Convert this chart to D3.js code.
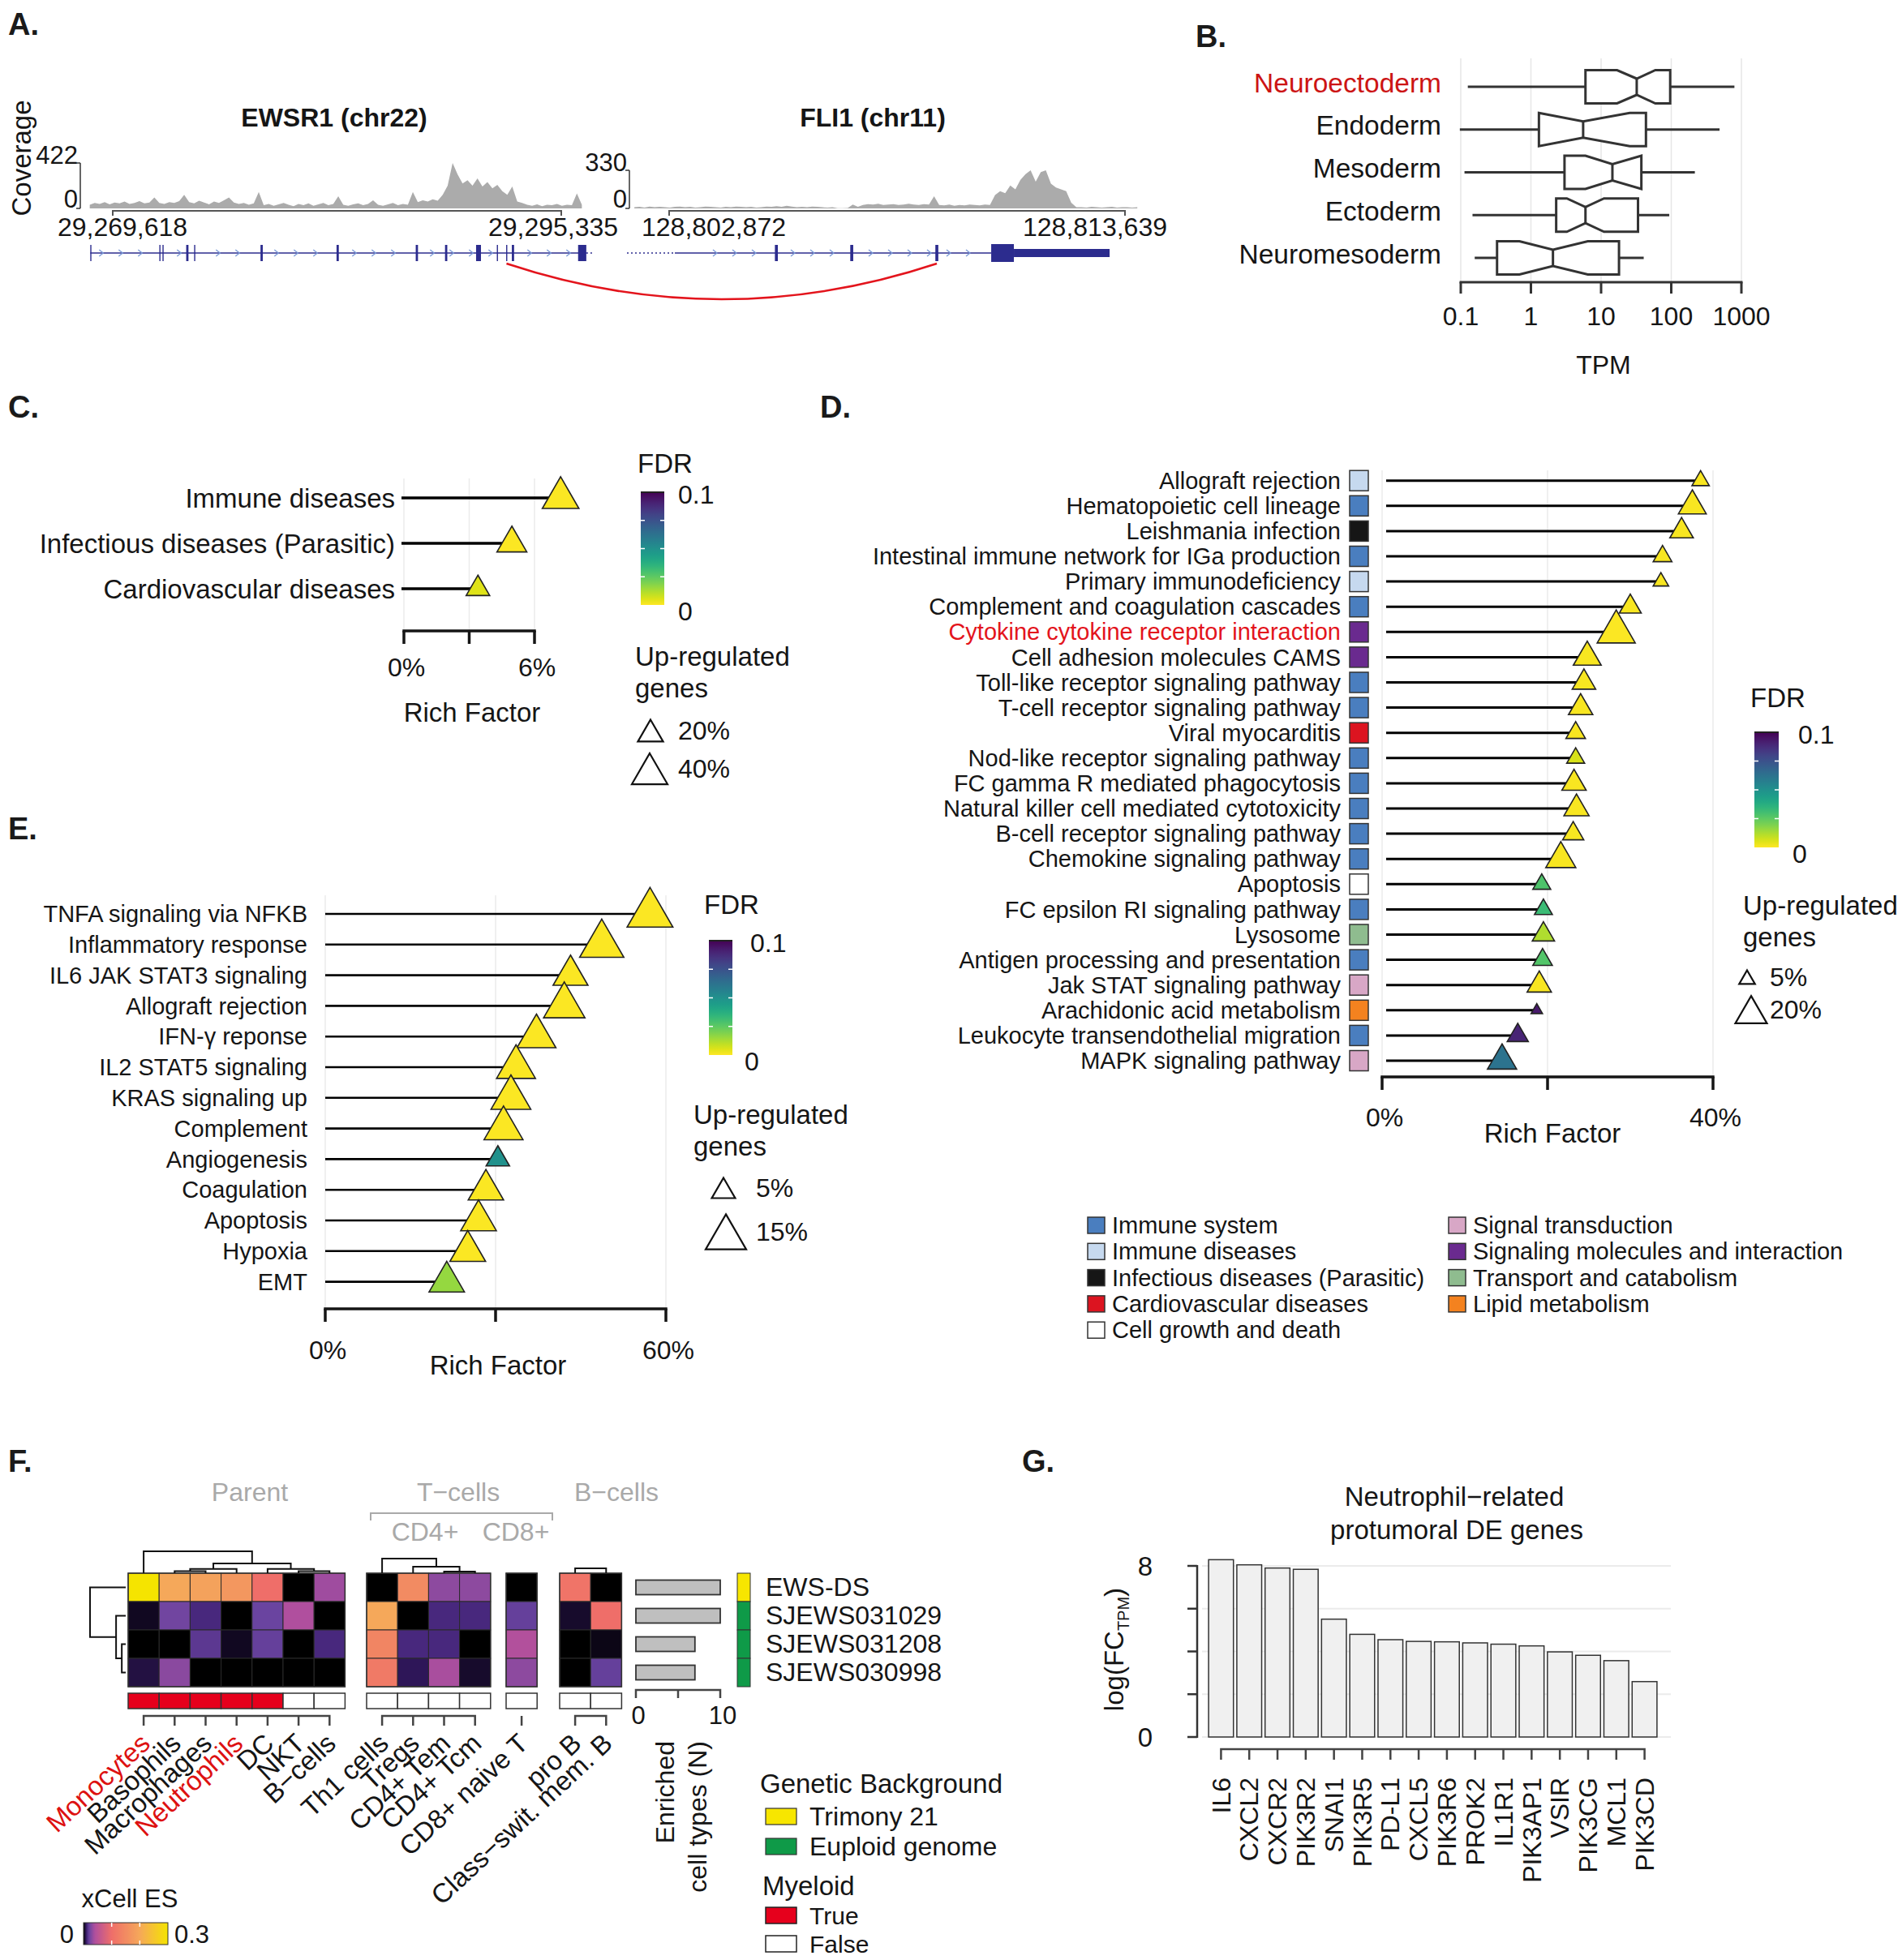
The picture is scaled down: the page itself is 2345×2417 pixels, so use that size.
<!DOCTYPE html>
<html><head><meta charset="utf-8">
<script src="https://cdn.jsdelivr.net/npm/d3@7"></script>
<style>body{margin:0;background:#fff}svg{display:block}</style>
</head><body>
<svg id="fig" width="2345" height="2417"></svg>
<script>
// ================= DATA =================
// Panel A
const ewsTicks = [29269618, 29295335];
const fliTicks = [128802872, 128813639];
const ewsMax = 422, fliMax = 330;
const ewsCovStart = 29268300, ewsCovStep = 285;
const ewsCoverage = [8,12,10,14,9,13,11,15,10,12, 16,11,13,24,12,10,14,12,16,30, 14,11,17,13,9,15,12,18,24,13, 10,12,8,11,36,7,10,6,9,12, 8,5,10,7,11,6,9,12,7,10, 27,8,6,9,11,7,10,18,8,6, 9,12,7,10,8,36,14,18,15,20, 17,30,50,100,75,55,62,50,66,48, 58,44,52,38,30,48,15,12,8,6, 9,5,8,7,10,6,8,7,33,8];
const fliCovStart = 128802050, fliCovStep = 120;
const fliCoverage = [3,4,2,5,3,4,3,2,4,5, 3,4,2,3,5,4,3,2,4,3, 5,4,3,4,2,3,5,4,6,4, 7,5,3,4,3,5,4,3,2,3, 0.5,0.5,1,10,4,9,11,10,12,9, 10,11,9,10,12,10,9,11,10,32, 9,8,10,7,9,8,10,9,8,10, 9,35,45,40,60,50,75,90,100,70, 95,100,65,55,50,45,15,3,3,2, 4,3,2,3,4,2,3,3,2,3];
const ewsGeneSpan = [29268330, 29296774, 29297100];
const ewsExons = [[29268330,29268380],[29272290,29272340],[29272470,29272510],[29273830,29273960],[29274285,29274325],[29278090,29278220],[29282450,29282580],[29286990,29287120],[29288670,29288800],[29290450,29290730],[29291640,29291680],[29292175,29292215],[29292500,29292630],[29296300,29296770]];
const fliGeneSpan = [128801876, 128803006, 128813276];
const fliExons = [[128805370,128805440],[128807150,128807220],[128809160,128809230]];
const fliCDS = [128810479, 128811015];
const fliUTR = [128811015, 128813276];
const fusionBreak = [29292194, 128809195];

// Panel B
const bCategories = ["Neuroectoderm","Endoderm","Mesoderm","Ectoderm","Neuromesoderm"];
const bWhiskerLow = [0.126, 0.097, 0.113, 0.147, 0.158];
const bQ1 = [5.99, 1.30, 3.01, 2.29, 0.329];
const bNotchLow = [16.9, 1.30, 5.99, 3.25, 0.686];
const bMedian = [32.2, 5.55, 14.5, 5.99, 2.06];
const bNotchHigh = [59.3, 25.6, 37.5, 11.0, 6.47];
const bQ3 = [96.6, 43.6, 37.5, 33.6, 18.0];
const bWhiskerHigh = [795, 488, 217, 93.7, 40.5];
const bTicks = [0.1, 1, 10, 100, 1000];

// Panel C
const cTerms = ["Immune diseases","Infectious diseases (Parasitic)","Cardiovascular diseases"];
const cRich = [7.2, 4.96, 3.4];
const cUp = [42, 28, 17.4];
const cFdr = [0.0005, 0.0005, 0.005];
const cTicks = [0, 3, 6];
const cTickLabels = ["0%", "", "6%"];
const cSizeLegend = [20, 40];

// Panel D
const dTerms = ["Allograft rejection","Hematopoietic cell lineage","Leishmania infection","Intestinal immune network for IGa production","Primary immunodeficiency","Complement and coagulation cascades","Cytokine cytokine receptor interaction","Cell adhesion molecules CAMS","Toll-like receptor signaling pathway","T-cell receptor signaling pathway","Viral myocarditis","Nod-like receptor signaling pathway","FC gamma R mediated phagocytosis","Natural killer cell mediated cytotoxicity","B-cell receptor signaling pathway","Chemokine signaling pathway","Apoptosis","FC epsilon RI signaling pathway","Lysosome","Antigen processing and presentation","Jak STAT signaling pathway","Arachidonic acid metabolism","Leukocyte transendothelial migration","MAPK signaling pathway"];
const dRich = [38.5, 37.5, 36.2, 33.9, 33.7, 30, 28.3, 24.8, 24.4, 24, 23.4, 23.4, 23.2, 23.5, 23.1, 21.6, 19.3, 19.5, 19.5, 19.4, 19, 18.7, 16.4, 14.5];
const dUp = [6, 15.5, 11, 7, 4.8, 9.6, 29, 15.5, 11, 11.8, 7.6, 6.4, 11.8, 12.6, 8.9, 18, 6.4, 6.4, 9.9, 7.6, 11.8, 2.6, 8.9, 17];
const dFdr = [0.001, 0.001, 0.001, 0.001, 0.001, 0.001, 0.0005, 0.001, 0.001, 0.001, 0.001, 0.006, 0.001, 0.001, 0.001, 0.001, 0.028, 0.032, 0.012, 0.027, 0.001, 0.093, 0.09, 0.062];
const dCategoryNames = ["Immune system","Immune diseases","Infectious diseases (Parasitic)","Cardiovascular diseases","Cell growth and death","Signal transduction","Signaling molecules and interaction","Transport and catabolism","Lipid metabolism"];
const dCategoryColors = ["#4a7ebf","#c6d9ef","#161616","#dc1420","#ffffff","#d8a7c6","#6a2a8f","#8fbc8f","#f4821f"];
const dTermCategory = [1,0,2,0,1,0,6,6,0,0,3,0,0,0,0,0,4,0,7,0,5,8,0,5];
const dHighlight = ["Cytokine cytokine receptor interaction"];
const dTicks = [0, 20, 40];
const dTickLabels = ["0%", "", "40%"];
const dSizeLegend = [5, 20];

// Panel E
const eTerms = ["TNFA signaling via NFKB","Inflammatory response","IL6 JAK STAT3 signaling","Allograft rejection","IFN-\u03b3 reponse","IL2 STAT5 signaling","KRAS signaling up","Complement","Angiogenesis","Coagulation","Apoptosis","Hypoxia","EMT"];
const eRich = [57.2, 48.7, 43.2, 42.1, 37.2, 33.6, 32.7, 31.4, 30.4, 28.3, 27, 25.1, 21.4];
const eUp = [19.1, 17.8, 11.1, 15.6, 13.8, 13.8, 14.4, 13.8, 5.0, 11.4, 11.6, 11.6, 11.4];
const eFdr = [0.0005, 0.0005, 0.0005, 0.0005, 0.0005, 0.0005, 0.0005, 0.0005, 0.05, 0.0005, 0.0005, 0.0005, 0.016];
const eTicks = [0, 30, 60];
const eTickLabels = ["0%", "", "60%"];
const eSizeLegend = [5, 15];

// Panel F
const fSamples = ["EWS-DS","SJEWS031029","SJEWS031208","SJEWS030998"];
const fParentCols = ["Monocytes","Basophils","Macrophages","Neutrophils","DC","NKT","B\u2212cells"];
const fTcd4Cols = ["Th1 cells","Tregs","CD4+ Tem","CD4+ Tcm"];
const fTcd8Cols = ["CD8+ naive T"];
const fBCols = ["pro B","Class\u2212swit. mem. B"];
const fParentES = [[0.3,0.2,0.19,0.17,0.1,0,0.035],[0.003,0.022,0.013,0,0.02,0.04,0],[0,0,0.017,0.003,0.019,0,0.013],[0.006,0.029,0,0,0,0,0]];
const fTcd4ES = [[0,0.15,0.03,0.03],[0.2,0,0.013,0.013],[0.14,0.013,0.013,0],[0.12,0.008,0.038,0.004]];
const fTcd8ES = [[0],[0.019],[0.042],[0.03]];
const fBES = [[0.11,0],[0.004,0.1],[0,0.002],[0,0.019]];
const fParentMyeloid = [true,true,true,true,true,false,false];
const fEnriched = [10, 10, 7, 7];
const fGenetic = ["Trimony 21","Euploid genome","Euploid genome","Euploid genome"];
const fRedCols = ["Monocytes","Neutrophils"];
const fParentDendro = {h:1, c:[0, {h:0.44, c:[{h:0.19, c:[{h:0.09, c:[1,2]}, 3]}, {h:0.19, c:[4, {h:0.09, c:[5,6]}]}]}]};
const fTcd4Dendro = {h:0.67, c:[0, {h:0.3, c:[1, {h:0.07, c:[2,3]}]}]};
const fBDendro = {h:0.22, c:[0,1]};
const fRowDendro = {h:1, c:[0, {h:0.27, c:[1, {h:0.11, c:[2,3]}]}]};
const fEsStops = [0, 0.01, 0.02, 0.04, 0.1, 0.2, 0.3];
const fEsColors = ["#000000","#3a1c6e","#6a44a0","#b04f9e","#ef6e69","#f5a85a","#f5e400"];

// Panel G
const gGenes = ["IL6","CXCL2","CXCR2","PIK3R2","SNAI1","PIK3R5","PD-L1","CXCL5","PIK3R6","PROK2","IL1R1","PIK3AP1","VSIR","PIK3CG","MCL1","PIK3CD"];
const gLogFC = [8.29, 8.05, 7.9, 7.84, 5.51, 4.8, 4.55, 4.47, 4.45, 4.4, 4.34, 4.26, 3.98, 3.82, 3.57, 2.59];
const gTicks = [0, 2, 4, 6, 8];

// ================= DRAWING =================
const FF = "'Liberation Sans', Arial, Helvetica, sans-serif";
const svg = d3.select('#fig');
svg.append('rect').attr('width',2345).attr('height',2417).attr('fill','#fff');
const defs = svg.append('defs');

function text(g, x, y, s, o = {}) {
  const t = g.append('text').attr('x', x).attr('y', y)
    .attr('font-family', FF).attr('font-size', o.size || 33)
    .attr('text-anchor', o.anchor || 'start').attr('fill', o.fill || '#151515')
    .attr('dy', o.dy === undefined ? '0.35em' : o.dy);
  if (o.weight) t.attr('font-weight', o.weight);
  if (o.rotate !== undefined) t.attr('transform', `rotate(${o.rotate},${x},${y})`);
  t.text(s);
  return t;
}
function line(g, x1, y1, x2, y2, stroke, w, dash) {
  const l = g.append('line').attr('x1', x1).attr('y1', y1).attr('x2', x2).attr('y2', y2)
    .attr('stroke', stroke).attr('stroke-width', w);
  if (dash) l.attr('stroke-dasharray', dash);
  return l;
}
function triPath(cx, cy, w) {
  const h = w * 0.866;
  return `M${cx},${cy - 2*h/3}L${cx + w/2},${cy + h/3}L${cx - w/2},${cy + h/3}Z`;
}
function triBoxPath(cx, cy, w) {
  const h = w * 0.866;
  return `M${cx},${cy - h/2}L${cx + w/2},${cy + h/2}L${cx - w/2},${cy + h/2}Z`;
}
const fdrColor = v => d3.interpolateViridis(1 - Math.min(v, 0.1) / 0.1);

const vg = defs.append('linearGradient').attr('id','viridisV').attr('x1',0).attr('y1',1).attr('x2',0).attr('y2',0);
d3.range(0, 1.0001, 0.05).forEach(t => vg.append('stop').attr('offset', t).attr('stop-color', fdrColor(t * 0.1)));

[['A.',10,43],['B.',1474,58],['C.',10,515],['D.',1011,515],['E.',10,1035],['F.',10,1815],['G.',1260,1815]]
  .forEach(([s,x,y]) => text(svg, x, y, s, {size:38, weight:'bold', dy:0, fill:'#1a1a1a'}));

// ---------------- Panel A ----------------
{
  const g = svg.append('g');
  const baseY = 257;
  const ewsX = d3.scaleLinear().domain(ewsTicks).range([139, 692]);
  const ewsY = d3.scaleLinear().domain([0, ewsMax]).range([baseY, 201]);
  const fliX = d3.scaleLinear().domain(fliTicks).range([825, 1387]);
  const fliY = d3.scaleLinear().domain([0, fliMax]).range([baseY, 210]);

  function track(xs, ys, start, step, cov, max, axisX, labelPos) {
    const pts = cov.map((v, i) => [start + i * step, v / 100 * max]);
    g.append('path').datum(pts)
      .attr('d', d3.area().x(d => xs(d[0])).y0(baseY).y1(d => ys(d[1])))
      .attr('fill', '#ababab');
    line(g, axisX, ys(0), axisX, ys(max), '#333', 1.5);
    line(g, axisX - 5, ys(max), axisX, ys(max), '#333', 1.5);
    line(g, axisX - 5, ys(0), axisX, ys(0), '#333', 1.5);
    text(g, axisX - 3, ys(max) + 1, String(max), {anchor:'end', dy:0, size:31});
    text(g, axisX - 3, ys(0) - 1, '0', {anchor:'end', dy:0, size:31});
    const [t0, t1] = xs.domain();
    g.append('path').attr('d', `M${xs(t0)},266V260H${xs(t1)}V266`)
      .attr('fill','none').attr('stroke','#555').attr('stroke-width',2);
    xs.domain().forEach((t, i) => text(g, xs(t) + labelPos[i], 291, d3.format(',')(t), {anchor:'middle', dy:0, size:32}));
  }
  track(ewsX, ewsY, ewsCovStart, ewsCovStep, ewsCoverage, ewsMax, 99, [12, -10]);
  track(fliX, fliY, fliCovStart, fliCovStep, fliCoverage, fliMax, 776, [55, -37]);

  text(g, 412, 156, 'EWSR1 (chr22)', {anchor:'middle', dy:0, size:32, weight:'bold'});
  text(g, 1076, 156, 'FLI1 (chr11)', {anchor:'middle', dy:0, size:32, weight:'bold'});
  text(g, 26, 195, 'Coverage', {anchor:'middle', size:33, rotate:-90});

  const gy = 312, navy = '#2c2c8e', chev = '#7b9bd8';
  function chevrons(x0, x1, skip) {
    for (let x = x0; x < x1; x += 24) {
      if (skip.some(s => Math.abs(s - x) < 6)) continue;
      g.append('path').attr('d', `M${x-3},${gy-4}L${x+2},${gy}L${x-3},${gy+4}`)
        .attr('fill','none').attr('stroke',chev).attr('stroke-width',1.3);
    }
  }
  line(g, ewsX(ewsGeneSpan[0]), gy, ewsX(ewsGeneSpan[1]), gy, navy, 1.6);
  line(g, ewsX(ewsGeneSpan[1]), gy, ewsX(ewsGeneSpan[2]), gy, navy, 1.6, '2,3');
  chevrons(ewsX(ewsGeneSpan[0]) + 14, ewsX(ewsGeneSpan[1]) - 8, ewsExons.map(e => ewsX((e[0]+e[1])/2)));
  ewsExons.forEach(e => {
    const x0 = ewsX(e[0]), w = Math.max(1.4, ewsX(e[1]) - x0);
    g.append('rect').attr('x', x0).attr('y', gy - 10).attr('width', w).attr('height', 20).attr('fill', navy);
  });
  line(g, fliX(fliGeneSpan[0]), gy, fliX(fliGeneSpan[1]), gy, navy, 1.6, '2,3');
  line(g, fliX(fliGeneSpan[1]), gy, fliX(fliCDS[0]), gy, navy, 1.6);
  chevrons(fliX(fliGeneSpan[1]) + 50, fliX(fliCDS[0]) - 8, fliExons.map(e => fliX((e[0]+e[1])/2)));
  fliExons.forEach(e => {
    const x0 = fliX(e[0]), w = Math.max(1.4, fliX(e[1]) - x0);
    g.append('rect').attr('x', x0).attr('y', gy - 10).attr('width', w).attr('height', 20).attr('fill', navy);
  });
  g.append('rect').attr('x', fliX(fliCDS[0])).attr('y', gy - 11).attr('width', fliX(fliCDS[1]) - fliX(fliCDS[0])).attr('height', 22).attr('fill', navy);
  g.append('rect').attr('x', fliX(fliUTR[0])).attr('y', gy - 5).attr('width', fliX(fliUTR[1]) - fliX(fliUTR[0])).attr('height', 10).attr('fill', navy);
  const ax0 = ewsX(fusionBreak[0]), ax1 = fliX(fusionBreak[1]);
  g.append('path').attr('d', `M${ax0},325Q${(ax0+ax1)/2},413 ${ax1},325`)
    .attr('fill','none').attr('stroke','#e3141c').attr('stroke-width',2.5);
}

// ---------------- Panel B ----------------
{
  const g = svg.append('g');
  const x = d3.scaleLog().domain([0.1, 1000]).range([1801, 2147]);
  const y = d3.scalePoint().domain(bCategories).range([107, 318]);
  bTicks.forEach(t => line(g, x(t), 72, x(t), 348, '#e6e6e6', 1.5));
  bCategories.forEach((c, i) => {
    const cy = y(c), hh = 20.5, nh = 10;
    line(g, x(bWhiskerLow[i]), cy, x(bQ1[i]), cy, '#333', 3);
    line(g, x(bQ3[i]), cy, x(bWhiskerHigh[i]), cy, '#333', 3);
    const pts = [[bQ1[i],-hh],[bNotchLow[i],-hh],[bMedian[i],-nh],[bNotchHigh[i],-hh],[bQ3[i],-hh],
                 [bQ3[i],hh],[bNotchHigh[i],hh],[bMedian[i],nh],[bNotchLow[i],hh],[bQ1[i],hh]]
      .map(p => [x(p[0]), cy + p[1]]);
    g.append('polygon').attr('points', pts.map(p => p.join(',')).join(' '))
      .attr('fill','#fff').attr('stroke','#333').attr('stroke-width',3).attr('stroke-linejoin','miter');
    line(g, x(bMedian[i]), cy - nh, x(bMedian[i]), cy + nh, '#333', 3);
    text(g, 1777, cy - 5, c, {anchor:'end', size:33.5, fill: i === 0 ? '#cc1414' : '#151515'});
  });
  line(g, x(0.1) - 1.5, 348, x(1000) + 1.5, 348, '#333', 3);
  bTicks.forEach(t => {
    line(g, x(t), 348, x(t), 362, '#333', 3);
    text(g, x(t), 390, String(t), {anchor:'middle', size:32});
  });
  text(g, 1977, 450, 'TPM', {anchor:'middle', size:32});
}

// ---------------- Lollipop helper (C, D, E) ----------------
function lollipop(g, o) {
  o.ticks.forEach(t => line(g, o.x(t), o.gridTop, o.x(t), o.axisY, '#ebebeb', 1.5));
  o.terms.forEach((n, i) => {
    const cy = o.y(n);
    line(g, o.lineX0, cy, o.x(o.rich[i]), cy, '#000', o.lineW);
    text(g, o.labelX, cy, n, {anchor:'end', size:o.labelSize, fill: (o.red || []).includes(n) ? '#e3141c' : '#151515'});
  });
  o.terms.forEach((n, i) => {
    g.append('path').attr('d', triPath(o.x(o.rich[i]), o.y(n), o.size(o.up[i])))
      .attr('fill', fdrColor(o.fdr[i])).attr('stroke', '#222').attr('stroke-width', 1.6);
  });
  const [x0, x1] = [o.x(o.ticks[0]), o.x(o.ticks[o.ticks.length - 1])];
  line(g, x0 - 1.75, o.axisY, x1 + 1.75, o.axisY, '#151515', 3.5);
  o.ticks.forEach((t, i) => {
    line(g, o.x(t), o.axisY, o.x(t), o.axisY + 16, '#151515', 3.5);
    if (o.tickLabels[i]) text(g, o.x(t) + 3, o.tickLabelY, o.tickLabels[i], {anchor:'middle', size:32});
  });
  text(g, o.titleX, o.titleY, 'Rich Factor', {anchor:'middle', size:33});
}
function fdrLegend(g, o) {
  text(g, o.x, o.titleY, 'FDR', {size:33});
  g.append('rect').attr('x', o.barX).attr('y', o.barY).attr('width', o.barW).attr('height', o.barH).attr('fill','url(#viridisV)');
  [0.25, 0.5, 0.75].forEach(f => {
    const yy = o.barY + o.barH * f;
    line(g, o.barX, yy, o.barX + 5, yy, '#fff', 1.5);
    line(g, o.barX + o.barW - 5, yy, o.barX + o.barW, yy, '#fff', 1.5);
  });
  line(g, o.barX, o.barY, o.barX + o.barW, o.barY, '#222', 2);
  text(g, o.topLabelX, o.barY + 3, '0.1', {size:32});
  text(g, o.botLabelX, o.barY + o.barH + 8, '0', {size:32});
  text(g, o.upX, o.upY, 'Up-regulated', {size:33});
  text(g, o.upX, o.upY + 39, 'genes', {size:33});
  o.sizes.forEach((v, i) => {
    g.append('path').attr('d', triBoxPath(o.triX[i], o.triY[i], o.size(v))).attr('fill','#fff').attr('stroke','#111').attr('stroke-width',2.2);
    text(g, o.sizeTextX, o.triY[i], v + '%', {size:32});
  });
}

// ---------------- Panel C ----------------
{
  const g = svg.append('g');
  const x = d3.scaleLinear().domain([0, 6]).range([498, 659]);
  const y = d3.scalePoint().domain(cTerms).range([614, 726]);
  const size = d3.scaleSqrt().domain([0, 40]).range([0, 44]);
  lollipop(g, {terms:cTerms, rich:cRich, up:cUp, fdr:cFdr, x, y, size, lineW:3.5, lineX0:x(0) - 3,
    labelX:487, labelSize:33, gridTop:590, axisY:778, ticks:cTicks, tickLabels:cTickLabels,
    tickLabelY:823, titleX:582, titleY:878});
  fdrLegend(g, {x:786, titleY:571, barX:790, barY:607, barW:29, barH:139, topLabelX:836, botLabelX:836,
    upX:783, upY:809, sizes:cSizeLegend, size, triX:[802, 801], triY:[901, 948], sizeTextX:836});
}

// ---------------- Panel D ----------------
{
  const g = svg.append('g');
  const x = d3.scaleLinear().domain([0, 40]).range([1704, 2112]);
  const y = d3.scalePoint().domain(dTerms).range([592.7, 592.7 + 23 * 31.1]);
  const size = d3.scaleSqrt().domain([0, 20]).range([0, 39]);
  lollipop(g, {terms:dTerms, rich:dRich, up:dUp, fdr:dFdr, x, y, size, lineW:3, lineX0:x(0) + 5,
    labelX:1653, labelSize:29, gridTop:580, axisY:1328, ticks:dTicks, tickLabels:dTickLabels,
    tickLabelY:1378, titleX:1914, titleY:1397, red:dHighlight});
  dTerms.forEach((n, i) => {
    g.append('rect').attr('x', 1664).attr('y', y(n) - 12.5).attr('width', 23).attr('height', 25)
      .attr('fill', dCategoryColors[dTermCategory[i]]).attr('stroke','#333').attr('stroke-width',1.5);
  });
  fdrLegend(g, {x:2158, titleY:860, barX:2163, barY:903, barW:30, barH:142, topLabelX:2217, botLabelX:2210,
    upX:2149, upY:1116, sizes:dSizeLegend, size, triX:[2154, 2159], triY:[1205, 1245], sizeTextX:2182});
  const cols = [[0,1,2,3,4],[5,6,7,8]];
  const colX = [1341, 1786];
  cols.forEach((idxs, ci) => idxs.forEach((k, r) => {
    const cy = 1511 + r * 32.3;
    g.append('rect').attr('x', colX[ci]).attr('y', cy - 10).attr('width', 21).attr('height', 20)
      .attr('fill', dCategoryColors[k]).attr('stroke','#333').attr('stroke-width',1.5);
    text(g, colX[ci] + 30, cy, dCategoryNames[k], {size:29});
  }));
}

// ---------------- Panel E ----------------
{
  const g = svg.append('g');
  const x = d3.scaleLinear().domain([0, 60]).range([401, 821]);
  const y = d3.scalePoint().domain(eTerms).range([1127, 1127 + 12 * 37.8]);
  const size = d3.scaleSqrt().domain([0, 15]).range([0, 50]);
  lollipop(g, {terms:eTerms, rich:eRich, up:eUp, fdr:eFdr, x, y, size, lineW:2.6, lineX0:x(0),
    labelX:379, labelSize:29, gridTop:1104, axisY:1614, ticks:eTicks, tickLabels:eTickLabels,
    tickLabelY:1665, titleX:614, titleY:1683});
  fdrLegend(g, {x:868, titleY:1115, barX:874, barY:1160, barW:29, barH:141, topLabelX:925, botLabelX:918,
    upX:855, upY:1374, sizes:eSizeLegend, size, triX:[892, 895], triY:[1465, 1519], sizeTextX:932});
}

// ---------------- Panel F ----------------
{
  const g = svg.append('g');
  const esColor = d3.scaleLinear().domain(fEsStops).range(fEsColors).clamp(true);
  const colW = 38.2, hmTop = 1940, hmH = 4 * 35;
  const y = d3.scaleBand().domain(fSamples).range([hmTop, hmTop + hmH]);
  const blocks = [
    {cols:fParentCols, vals:fParentES, x0:158, myeloid:fParentMyeloid, dendro:fParentDendro},
    {cols:fTcd4Cols, vals:fTcd4ES, x0:452, myeloid:fTcd4Cols.map(() => false), dendro:fTcd4Dendro},
    {cols:fTcd8Cols, vals:fTcd8ES, x0:624, myeloid:[false], dendro:null},
    {cols:fBCols, vals:fBES, x0:690, myeloid:fBCols.map(() => false), dendro:fBDendro}
  ];
  const dH = d3.scaleLinear().domain([0, 1]).range([hmTop, hmTop - 27]);
  function drawColDendro(node, xs) {
    if (typeof node === 'number') return {x: xs[node], h: 0};
    const a = drawColDendro(node.c[0], xs), b = drawColDendro(node.c[1], xs);
    g.append('path').attr('d', `M${a.x},${dH(a.h)}V${dH(node.h)}H${b.x}V${dH(b.h)}`)
      .attr('fill','none').attr('stroke','#111').attr('stroke-width',2);
    return {x: (a.x + b.x) / 2, h: node.h};
  }
  blocks.forEach(b => {
    const x = d3.scaleBand().domain(b.cols).range([b.x0, b.x0 + b.cols.length * colW]);
    b.vals.forEach((row, ri) => row.forEach((v, ci) => {
      g.append('rect').attr('x', x(b.cols[ci])).attr('y', y(fSamples[ri]))
        .attr('width', x.bandwidth()).attr('height', y.bandwidth())
        .attr('fill', esColor(v)).attr('stroke','#2a2a2a').attr('stroke-width',1);
    }));
    g.append('rect').attr('x', b.x0).attr('y', hmTop).attr('width', b.cols.length * colW).attr('height', hmH)
      .attr('fill','none').attr('stroke','#333').attr('stroke-width',1.5);
    b.cols.forEach((c, ci) => {
      g.append('rect').attr('x', x(c)).attr('y', 2088).attr('width', x.bandwidth()).attr('height', 19)
        .attr('fill', b.myeloid[ci] ? '#e6001c' : '#fff').attr('stroke','#333').attr('stroke-width',1.5);
    });
    const centers = b.cols.map(c => x(c) + x.bandwidth() / 2);
    if (b.dendro) drawColDendro(b.dendro, centers);
    g.append('path').attr('d', centers.length > 1
        ? `M${centers[0]},2128V2116H${centers[centers.length-1]}V2128` + centers.slice(1, -1).map(cx => `M${cx},2116V2128`).join('')
        : `M${centers[0]},2116V2128`)
      .attr('fill','none').attr('stroke','#444').attr('stroke-width',2.5);
    b.cols.forEach((c, ci) => {
      text(g, centers[ci] + 2, 2144, c, {anchor:'end', size:33, rotate:-43,
        fill: fRedCols.includes(c) ? '#dd1111' : '#151515'});
    });
  });
  const rX = d3.scaleLinear().domain([0, 1]).range([155, 111]);
  function drawRowDendro(node) {
    if (typeof node === 'number') return {y: y(fSamples[node]) + y.bandwidth() / 2, h: 0};
    const a = drawRowDendro(node.c[0]), b = drawRowDendro(node.c[1]);
    g.append('path').attr('d', `M${rX(a.h)},${a.y}H${rX(node.h)}V${b.y}H${rX(b.h)}`)
      .attr('fill','none').attr('stroke','#111').attr('stroke-width',2);
    return {y: (a.y + b.y) / 2, h: node.h};
  }
  drawRowDendro(fRowDendro);
  const grey = '#a9a9a9';
  text(g, 308, 1840, 'Parent', {anchor:'middle', size:32, fill:grey});
  text(g, 565, 1840, 'T\u2212cells', {anchor:'middle', size:32, fill:grey});
  text(g, 760, 1840, 'B\u2212cells', {anchor:'middle', size:32, fill:grey});
  g.append('path').attr('d','M457,1875V1866H681V1875').attr('fill','none').attr('stroke',grey).attr('stroke-width',2);
  text(g, 524, 1889, 'CD4+', {anchor:'middle', size:32, fill:grey});
  text(g, 636, 1889, 'CD8+', {anchor:'middle', size:32, fill:grey});
  const bx = d3.scaleLinear().domain([0, 10]).range([784, 888]);
  fSamples.forEach((s, i) => {
    const cy = y(s) + y.bandwidth() / 2;
    g.append('rect').attr('x', bx(0)).attr('y', cy - 9).attr('width', bx(fEnriched[i]) - bx(0)).attr('height', 18)
      .attr('fill','#bfbfbf').attr('stroke','#333').attr('stroke-width',1.8);
  });
  g.append('path').attr('d', `M${bx(0)},2094V2084H${bx(10)}V2094M${bx(5)},2084V2094`).attr('fill','none').attr('stroke','#444').attr('stroke-width',2.5);
  [0, 10].forEach(t => text(g, bx(t) + 3, 2115, String(t), {anchor:'middle', size:31}));
  text(g, 820, 2147, 'Enriched', {anchor:'end', size:32, rotate:-90});
  text(g, 860, 2147, 'cell types (N)', {anchor:'end', size:32, rotate:-90});
  const genColor = {"Trimony 21":"#f7e600", "Euploid genome":"#0f9a48"};
  fSamples.forEach((s, i) => {
    g.append('rect').attr('x', 909).attr('y', y(s)).attr('width', 16).attr('height', y.bandwidth())
      .attr('fill', genColor[fGenetic[i]]).attr('stroke','#333').attr('stroke-width',1);
    text(g, 944, y(s) + y.bandwidth() / 2 - 1, s, {size:32});
  });
  text(g, 937, 2199, 'Genetic Background', {size:33});
  ["Trimony 21","Euploid genome"].forEach((k, i) => {
    const cy = 2240 + i * 37;
    g.append('rect').attr('x', 944).attr('y', cy - 10).attr('width', 38).attr('height', 20).attr('fill', genColor[k]).attr('stroke','#333').attr('stroke-width',1.2);
    text(g, 998, cy, k, {size:32});
  });
  text(g, 940, 2325, 'Myeloid', {size:33});
  [["True","#e6001c"],["False","#fff"]].forEach(([k, c], i) => {
    const cy = 2362 + i * 35;
    g.append('rect').attr('x', 944).attr('y', cy - 10).attr('width', 38).attr('height', 20).attr('fill', c).attr('stroke','#222').attr('stroke-width',1.5);
    text(g, 998, cy, k, {size:30});
  });
  const hg = defs.append('linearGradient').attr('id','esH').attr('x1',0).attr('y1',0).attr('x2',1).attr('y2',0);
  d3.range(0, 1.0001, 0.02).forEach(t => hg.append('stop').attr('offset', t).attr('stop-color', esColor(t * 0.3)));
  text(g, 160, 2341, 'xCell ES', {anchor:'middle', size:31});
  const cbx = d3.scaleLinear().domain([0, 0.3]).range([103, 207]);
  g.append('rect').attr('x', cbx(0)).attr('y', 2371).attr('width', cbx(0.3) - cbx(0)).attr('height', 27).attr('fill','url(#esH)').attr('stroke','#333').attr('stroke-width',1);
  [0.1, 0.2].forEach(t => {
    line(g, cbx(t), 2371, cbx(t), 2376, '#fff', 1.5);
    line(g, cbx(t), 2393, cbx(t), 2398, '#fff', 1.5);
  });
  text(g, cbx(0) - 12, 2385, '0', {anchor:'end', size:31});
  text(g, cbx(0.3) + 8, 2385, '0.3', {size:31});
}

// ---------------- Panel G ----------------
{
  const g = svg.append('g');
  const x = d3.scaleBand().domain(gGenes).range([1488, 2045]).paddingInner(0.12).paddingOuter(0.06);
  const y = d3.scaleLinear().domain([0, 8]).range([2142, 1931]);
  gTicks.forEach(t => line(g, 1482, y(t), 2060, y(t), '#ebebeb', 2));
  gGenes.forEach((n, i) => {
    g.append('rect').attr('x', x(n)).attr('y', y(gLogFC[i])).attr('width', x.bandwidth()).attr('height', y(0) - y(gLogFC[i]))
      .attr('fill','#f0f0f0').attr('stroke','#333').attr('stroke-width',1.5);
  });
  line(g, 1476, y(0) + 1, 1476, y(8) - 1, '#333', 2.5);
  gTicks.forEach(t => line(g, 1464, y(t), 1476, y(t), '#333', 2.5));
  [0, 8].forEach(t => text(g, 1421, y(t), String(t), {anchor:'end', size:33}));
  const centers = gGenes.map(n => x(n) + x.bandwidth() / 2);
  g.append('path').attr('d', `M${centers[0]},2170V2157H${centers[centers.length-1]}V2170` + centers.slice(1,-1).map(c => `M${c},2157V2170`).join(''))
    .attr('fill','none').attr('stroke','#444').attr('stroke-width',2.5);
  gGenes.forEach((n, i) => text(g, centers[i], 2192, n, {anchor:'end', size:32, rotate:-90}));
  text(g, 1793, 1845, 'Neutrophil\u2212related', {anchor:'middle', size:33});
  text(g, 1796, 1886, 'protumoral DE genes', {anchor:'middle', size:33});
  const yl = g.append('text').attr('transform','translate(1373,2034) rotate(-90)').attr('text-anchor','middle')
    .attr('font-family', FF).attr('font-size', 33).attr('dy','0.35em').attr('fill','#151515');
  yl.append('tspan').text('log(FC');
  yl.append('tspan').attr('font-size', 20).attr('dy', 7).text('TPM');
  yl.append('tspan').attr('dy', -7).text(')');
}
</script>
</body></html>
